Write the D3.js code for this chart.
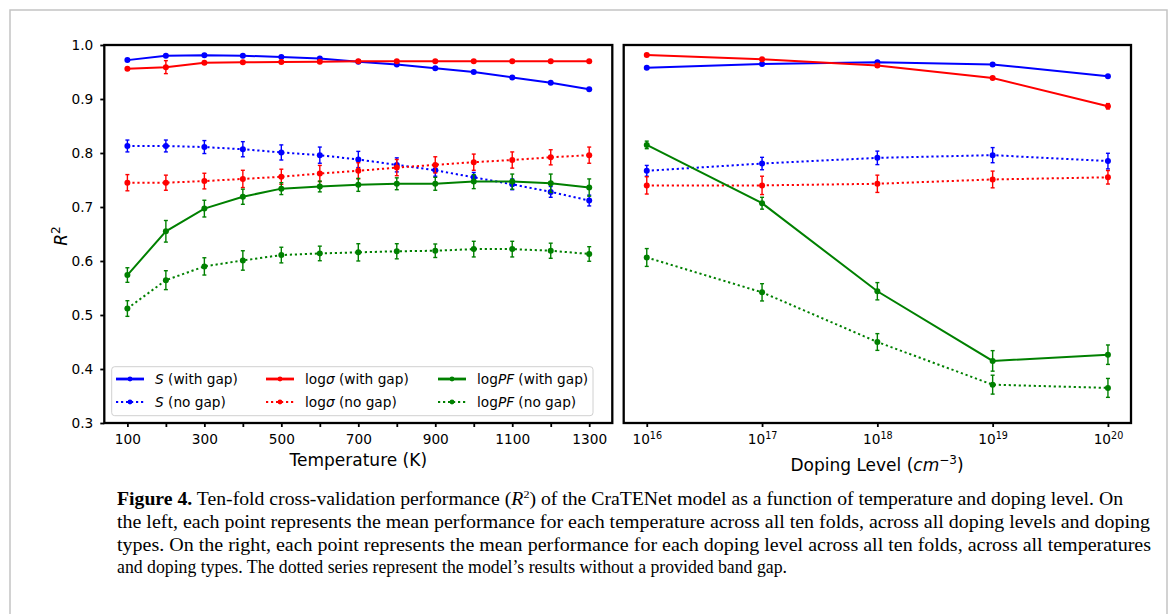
<!DOCTYPE html>
<html>
<head>
<meta charset="utf-8">
<script src="https://cdn.jsdelivr.net/npm/d3@7"></script>
<style>
body { margin: 0; background: #fff; }
svg text { fill: #000; }
.mpl { font-family: "DejaVu Sans", sans-serif; }
.cap { font-family: "Liberation Serif", "Times New Roman", serif; }
</style>
</head>
<body>
<svg id="fig" width="1170" height="614"></svg>
<script>
// left panel: temperature
const temps = [100, 200, 300, 400, 500, 600, 700, 800, 900, 1000, 1100, 1200, 1300]
const sGapT = [0.972, 0.980, 0.981, 0.980, 0.978, 0.975, 0.969, 0.964, 0.957, 0.950, 0.940, 0.930, 0.918]
const sGapTErr = [0.002, 0.002, 0.002, 0.002, 0.002, 0.002, 0.002, 0.002, 0.002, 0.002, 0.002, 0.002, 0.002]
const sNoGapT = [0.813, 0.813, 0.811, 0.807, 0.801, 0.796, 0.788, 0.778, 0.768, 0.755, 0.742, 0.728, 0.712]
const sNoGapTErr = [0.011, 0.011, 0.012, 0.014, 0.014, 0.015, 0.015, 0.013, 0.011, 0.009, 0.010, 0.010, 0.010]
const sigGapT = [0.956, 0.959, 0.967, 0.968, 0.9685, 0.969, 0.970, 0.970, 0.970, 0.970, 0.970, 0.970, 0.970]
const sigGapTErr = [0.002, 0.012, 0.002, 0.002, 0.002, 0.002, 0.002, 0.002, 0.002, 0.002, 0.002, 0.002, 0.002]
const sigNoGapT = [0.745, 0.745, 0.748, 0.752, 0.756, 0.762, 0.767, 0.773, 0.778, 0.783, 0.787, 0.792, 0.796]
const sigNoGapTErr = [0.015, 0.014, 0.0145, 0.016, 0.014, 0.015, 0.015, 0.015, 0.015, 0.015, 0.015, 0.014, 0.015]
const pfGapT = [0.574, 0.655, 0.697, 0.719, 0.734, 0.738, 0.741, 0.743, 0.743, 0.747, 0.747, 0.744, 0.736]
const pfGapTErr = [0.0135, 0.020, 0.0155, 0.014, 0.011, 0.010, 0.012, 0.011, 0.012, 0.013, 0.014, 0.017, 0.016]
const pfNoGapT = [0.512, 0.5645, 0.590, 0.601, 0.611, 0.614, 0.616, 0.618, 0.619, 0.622, 0.622, 0.619, 0.613]
const pfNoGapTErr = [0.0145, 0.0175, 0.016, 0.018, 0.0145, 0.0135, 0.016, 0.014, 0.0125, 0.0145, 0.0145, 0.014, 0.0135]

// right panel: doping level
const doping = [1e16, 1e17, 1e18, 1e19, 1e20]
const sGapD = [0.958, 0.965, 0.968, 0.964, 0.942]
const sGapDErr = [0.002, 0.002, 0.002, 0.002, 0.002]
const sNoGapD = [0.767, 0.7805, 0.791, 0.796, 0.785]
const sNoGapDErr = [0.010, 0.0115, 0.0125, 0.014, 0.0145]
const sigGapD = [0.9815, 0.9735, 0.962, 0.939, 0.8865]
const sigGapDErr = [0.002, 0.002, 0.003, 0.002, 0.005]
const sigNoGapD = [0.740, 0.740, 0.743, 0.751, 0.755]
const sigNoGapDErr = [0.016, 0.017, 0.016, 0.0155, 0.0125]
const pfGapD = [0.815, 0.707, 0.544, 0.415, 0.4265]
const pfGapDErr = [0.007, 0.011, 0.016, 0.019, 0.018]
const pfNoGapD = [0.6065, 0.542, 0.450, 0.371, 0.365]
const pfNoGapDErr = [0.0165, 0.016, 0.0155, 0.0175, 0.0175]

const yTicks = [0.3, 0.4, 0.5, 0.6, 0.7, 0.8, 0.9, 1.0]
const tempTicks = [100, 200, 300, 400, 500, 600, 700, 800, 900, 1000, 1100, 1200, 1300]
const dopingExps = [16, 17, 18, 19, 20]

const captionLines = [
    "the left, each point represents the mean performance for each temperature across all ten folds, across all doping levels and doping",
    "types. On the right, each point represents the mean performance for each doping level across all ten folds, across all temperatures",
    "and doping types. The dotted series represent the model\u2019s results without a provided band gap."
]

const BLUE = "#0000ff", RED = "#ff0000", GREEN = "#008000"

const svg = d3.select("#fig")

// figure frame
svg.append("path")
    .attr("d", "M10,614 V10 H1167 V614")
    .attr("fill", "none")
    .attr("stroke", "#c4c4c4")
    .attr("stroke-width", 1.5)

const plotTop = 45, plotBottom = 423
const y = d3.scaleLinear().domain([0.3, 1.0]).range([plotBottom, plotTop])
const xT = d3.scaleLinear().domain([40, 1360]).range([104.3, 612.3])
const xD = d3.scaleLog().domain([Math.pow(10, 15.8), Math.pow(10, 20.2)]).range([623.7, 1131])

const series = (g, x, xs, ys, errs, color, dotted) => {
    const pts = xs.map((d, i) => ({x: d, y: ys[i], e: errs[i]}))
    const line = d3.line().x(d => x(d.x)).y(d => y(d.y))
    g.append("path")
        .datum(pts)
        .attr("d", line)
        .attr("fill", "none")
        .attr("stroke", color)
        .attr("stroke-width", 2)
        .attr("stroke-dasharray", dotted ? "2.2,2.8" : null)
    const eb = g.append("g").attr("stroke", color).attr("stroke-width", 1.4)
    pts.forEach(d => {
        const cx = x(d.x)
        eb.append("line").attr("x1", cx).attr("x2", cx).attr("y1", y(d.y - d.e)).attr("y2", y(d.y + d.e))
        eb.append("line").attr("x1", cx - 2).attr("x2", cx + 2).attr("y1", y(d.y - d.e)).attr("y2", y(d.y - d.e))
        eb.append("line").attr("x1", cx - 2).attr("x2", cx + 2).attr("y1", y(d.y + d.e)).attr("y2", y(d.y + d.e))
    })
    g.append("g").selectAll("circle")
        .data(pts)
        .enter()
        .append("circle")
        .attr("cx", d => x(d.x))
        .attr("cy", d => y(d.y))
        .attr("r", 3)
        .attr("fill", color)
}

// ---- left panel
const leftG = svg.append("g")
series(leftG, xT, temps, sGapT, sGapTErr, BLUE, false)
series(leftG, xT, temps, sNoGapT, sNoGapTErr, BLUE, true)
series(leftG, xT, temps, sigGapT, sigGapTErr, RED, false)
series(leftG, xT, temps, sigNoGapT, sigNoGapTErr, RED, true)
series(leftG, xT, temps, pfGapT, pfGapTErr, GREEN, false)
series(leftG, xT, temps, pfNoGapT, pfNoGapTErr, GREEN, true)

// ---- right panel
const rightG = svg.append("g")
series(rightG, xD, doping, sGapD, sGapDErr, BLUE, false)
series(rightG, xD, doping, sNoGapD, sNoGapDErr, BLUE, true)
series(rightG, xD, doping, sigGapD, sigGapDErr, RED, false)
series(rightG, xD, doping, sigNoGapD, sigNoGapDErr, RED, true)
series(rightG, xD, doping, pfGapD, pfGapDErr, GREEN, false)
series(rightG, xD, doping, pfNoGapD, pfNoGapDErr, GREEN, true)

// axes
const styleAxis = g => {
    g.attr("font-family", null).attr("font-size", null).attr("class", "mpl")
    g.select(".domain").remove()
    g.selectAll(".tick line").attr("stroke", "#000").attr("stroke-width", 1.8)
    g.selectAll(".tick text").attr("font-size", "13.7px").attr("fill", "#000")
}

svg.append("g")
    .attr("transform", `translate(0,${plotBottom})`)
    .call(d3.axisBottom(xT).tickValues(tempTicks).tickSize(4).tickPadding(7.3)
        .tickFormat(d => (d - 100) % 200 === 0 ? d : ""))
    .call(styleAxis)

svg.append("g")
    .attr("transform", "translate(104.3,0)")
    .call(d3.axisLeft(y).tickValues(yTicks).tickSize(4).tickPadding(7).tickFormat(d3.format(".1f")))
    .call(styleAxis)

const dAxis = svg.append("g")
    .attr("transform", `translate(0,${plotBottom})`)
    .call(d3.axisBottom(xD).tickValues(dopingExps.map(e => Math.pow(10, e))).tickSize(4).tickFormat(""))
    .call(styleAxis)
dAxis.selectAll(".tick").each(function(d, i) {
    const t = d3.select(this).append("text")
        .attr("y", 21.3)
        .attr("text-anchor", "middle")
        .attr("font-size", "13.7px")
    t.append("tspan").text("10")
    t.append("tspan").attr("font-size", "9.6px").attr("dy", "-5.5").text(dopingExps[i])
})

// spines
;[[104.3, 612.3], [623.7, 1131]].forEach(([x0, x1]) => {
    svg.append("rect")
        .attr("x", x0).attr("y", plotTop)
        .attr("width", x1 - x0).attr("height", plotBottom - plotTop)
        .attr("fill", "none")
        .attr("stroke", "#000")
        .attr("stroke-width", 2.3)
})

// axis labels
svg.append("text")
    .attr("class", "mpl")
    .attr("x", 358.3).attr("y", 466)
    .attr("text-anchor", "middle")
    .attr("font-size", "17px")
    .text("Temperature (K)")

const dl = svg.append("text")
    .attr("class", "mpl")
    .attr("x", 877).attr("y", 471)
    .attr("text-anchor", "middle")
    .attr("font-size", "17px")
dl.append("tspan").text("Doping Level (")
dl.append("tspan").attr("font-style", "italic").text("cm")
dl.append("tspan").attr("font-size", "12px").attr("dy", -7).text("\u22123")
dl.append("tspan").attr("dy", 7).text(")")

const yl = svg.append("text")
    .attr("class", "mpl")
    .attr("transform", "translate(67,236) rotate(-90)")
    .attr("text-anchor", "middle")
    .attr("font-size", "17px")
yl.append("tspan").attr("font-style", "italic").text("R")
yl.append("tspan").attr("font-size", "12px").attr("dy", -7).text("2")

// legend
const legend = svg.append("g").attr("class", "mpl")
legend.append("rect")
    .attr("x", 111.7).attr("y", 366.7)
    .attr("width", 481.3).attr("height", 49)
    .attr("rx", 3)
    .attr("fill", "#fff").attr("fill-opacity", 0.85)
    .attr("stroke", "#d0d0d0").attr("stroke-width", 1)

const legendItems = [
    {col: 0, row: 0, color: BLUE, dotted: false, parts: [["S", true], [" (with gap)", false]]},
    {col: 0, row: 1, color: BLUE, dotted: true, parts: [["S", true], [" (no gap)", false]]},
    {col: 1, row: 0, color: RED, dotted: false, parts: [["log", false], ["\u03c3", true], [" (with gap)", false]]},
    {col: 1, row: 1, color: RED, dotted: true, parts: [["log", false], ["\u03c3", true], [" (no gap)", false]]},
    {col: 2, row: 0, color: GREEN, dotted: false, parts: [["log", false], ["PF", true], [" (with gap)", false]]},
    {col: 2, row: 1, color: GREEN, dotted: true, parts: [["log", false], ["PF", true], [" (no gap)", false]]}
]
const colX = [116, 266, 438]
const rowY = [379, 402]
legendItems.forEach(it => {
    const x0 = colX[it.col], ly = rowY[it.row]
    legend.append("line")
        .attr("x1", x0).attr("x2", x0 + 28)
        .attr("y1", ly).attr("y2", ly)
        .attr("stroke", it.color)
        .attr("stroke-width", it.dotted ? 2 : 2.8)
        .attr("stroke-dasharray", it.dotted ? "2.2,2.8" : null)
    legend.append("circle")
        .attr("cx", x0 + 14).attr("cy", ly).attr("r", 2.4)
        .attr("fill", it.color)
    const t = legend.append("text")
        .attr("x", x0 + 39).attr("y", ly + 5)
        .attr("font-size", "13.7px")
    it.parts.forEach(([s, ital]) => t.append("tspan").attr("font-style", ital ? "italic" : null).text(s))
})

// caption
const cap = svg.append("g").attr("class", "cap").attr("font-size", "18px")
const first = cap.append("text")
    .attr("x", 117).attr("y", 505)
    .attr("textLength", 1006)
    .attr("lengthAdjust", "spacingAndGlyphs")
first.append("tspan").attr("font-weight", "bold").text("Figure 4.")
first.append("tspan").text(" Ten-fold cross-validation performance (")
first.append("tspan").attr("font-style", "italic").text("R")
first.append("tspan").attr("font-size", "11px").attr("dy", -7).text("2")
first.append("tspan").attr("dy", 7).text(") of the CraTENet model as a function of temperature and doping level. On")

const capWidths = [1033, 1034, 670]
captionLines.forEach((s, i) => {
    cap.append("text")
        .attr("x", 117).attr("y", 528 + i * 22.7)
        .attr("textLength", capWidths[i])
        .attr("lengthAdjust", "spacingAndGlyphs")
        .text(s)
})
</script>
</body>
</html>
